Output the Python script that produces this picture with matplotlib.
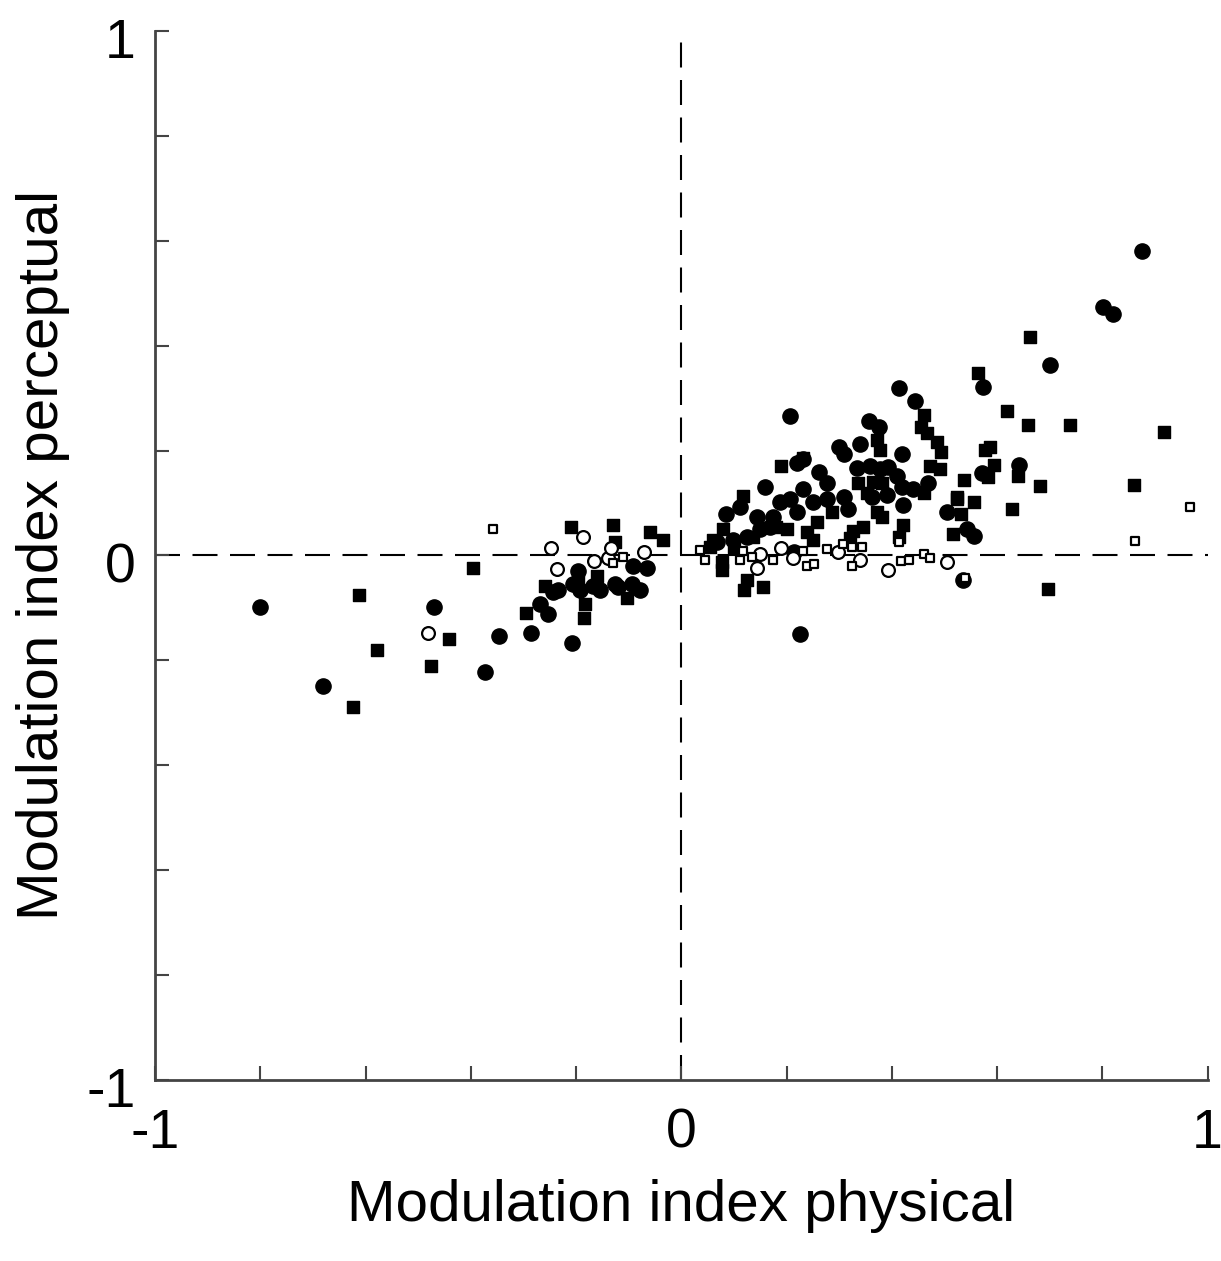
import numpy as np
import matplotlib.pyplot as plt
from matplotlib.transforms import ScaledTranslation

plt.rcParams['font.family'] = ['Liberation Sans', 'DejaVu Sans']

# filled circles (x, y)
fc_x = [-0.80, -0.68, -0.47, -0.347, -0.373, -0.286, -0.269, -0.253, -0.208, -0.244,
        -0.234, -0.206, -0.197, -0.193, -0.168, -0.155, -0.126, -0.12, -0.092, -0.094,
        -0.079, -0.066,
        0.206, 0.413, 0.444, 0.356, 0.375, 0.30, 0.31, 0.339, 0.358, 0.333, 0.377, 0.393,
        0.419, 0.409, 0.419, 0.44, 0.468, 0.362, 0.39, 0.422, 0.31, 0.317, 0.262, 0.276,
        0.22, 0.231, 0.159, 0.111, 0.084, 0.143, 0.187, 0.206, 0.231, 0.25, 0.22, 0.174,
        0.168, 0.149, 0.124, 0.098, 0.067, 0.504, 0.276, 0.215, 0.225,
        0.875, 0.802, 0.821, 0.70, 0.573, 0.641, 0.571, 0.542, 0.557, 0.535]
fc_y = [-0.099, -0.248, -0.099, -0.154, -0.223, -0.147, -0.093, -0.112, -0.166, -0.069,
        -0.065, -0.055, -0.030, -0.065, -0.059, -0.065, -0.055, -0.061, -0.021, -0.055,
        -0.065, -0.023,
        0.265, 0.32, 0.294, 0.256, 0.244, 0.206, 0.193, 0.212, 0.17, 0.166, 0.164, 0.168,
        0.193, 0.151, 0.13, 0.126, 0.139, 0.111, 0.116, 0.097, 0.111, 0.088, 0.16, 0.139,
        0.177, 0.183, 0.13, 0.092, 0.08, 0.074, 0.101, 0.107, 0.126, 0.101, 0.082, 0.074,
        0.055, 0.05, 0.036, 0.03, 0.025, 0.082, 0.107, 0.006, -0.149,
        0.58, 0.473, 0.461, 0.364, 0.322, 0.172, 0.158, 0.05, 0.038, -0.046]

# filled squares
fs_x = [-0.612, -0.578, -0.624, -0.476, -0.441, -0.396, -0.295, -0.259, -0.21, -0.13,
        -0.126, -0.183, -0.185, -0.104, -0.06, -0.035, -0.16, -0.197,
        0.19, 0.231, 0.117, 0.462, 0.456, 0.466, 0.485, 0.494, 0.472, 0.491, 0.462, 0.371,
        0.377, 0.336, 0.352, 0.364, 0.381, 0.371, 0.381, 0.345, 0.326, 0.32, 0.421, 0.413,
        0.286, 0.25, 0.257, 0.238, 0.079, 0.06, 0.054, 0.077, 0.077, 0.124, 0.12, 0.155,
        0.516, 0.523, 0.10, 0.136, 0.18, 0.20,
        0.662, 0.563, 0.618, 0.658, 0.738, 0.917, 0.577, 0.586, 0.595, 0.582, 0.639, 0.538,
        0.681, 0.861, 0.628, 0.523, 0.557, 0.531, 0.696]
fs_y = [-0.076, -0.181, -0.288, -0.21, -0.16, -0.023, -0.11, -0.059, 0.055, 0.059,
        0.025, -0.093, -0.12, -0.082, 0.044, 0.03, -0.04, -0.05,
        0.17, 0.185, 0.114, 0.267, 0.244, 0.234, 0.217, 0.198, 0.17, 0.164, 0.12, 0.221,
        0.202, 0.139, 0.12, 0.141, 0.139, 0.082, 0.074, 0.055, 0.046, 0.034, 0.059, 0.036,
        0.082, 0.03, 0.063, 0.044, 0.05, 0.03, 0.017, -0.013, -0.027, -0.046, -0.065, -0.061,
        0.04, 0.111, 0.017, 0.036, 0.055, 0.05,
        0.416, 0.347, 0.275, 0.248, 0.248, 0.236, 0.202, 0.206, 0.173, 0.149, 0.151, 0.143,
        0.133, 0.135, 0.088, 0.107, 0.101, 0.08, -0.063]

# open circles
oc_x = [-0.481, -0.248, -0.236, -0.187, -0.166, -0.14, -0.134, -0.071,
        0.19, 0.143, 0.297, 0.34, 0.393, 0.504, 0.212, 0.15]
oc_y = [-0.147, 0.015, -0.025, 0.036, -0.01, -0.004, 0.015, 0.006,
        0.015, -0.023, 0.006, -0.008, -0.027, -0.013, -0.004, 0.002]

# open squares
os_x = [-0.358, -0.111, -0.13,
        0.035, 0.045, 0.117, 0.134, 0.111, 0.174, 0.276, 0.231, 0.238, 0.253, 0.307,
        0.324, 0.343, 0.324, 0.413, 0.417, 0.432, 0.462, 0.472, 0.966, 0.863, 0.54]
os_y = [0.05, -0.002, -0.015,
        0.011, -0.008, 0.008, -0.002, -0.008, -0.008, 0.013, 0.008, -0.021, -0.017, 0.021,
        0.017, 0.017, -0.021, 0.025, -0.011, -0.008, 0.002, -0.004, 0.093, 0.027, -0.042]

fig = plt.figure(figsize=(12.21, 12.61), dpi=100)
ax = fig.add_axes([0.127, 0.1435, 0.862, 0.832])

ax.axvline(0, color='black', lw=1.5, dashes=(12, 6), zorder=1)
ax.axhline(0, color='black', lw=1.5, dashes=(12, 6), zorder=1)

ax.scatter(fc_x, fc_y, s=120, marker='o', c='black', edgecolors='black', zorder=3)
ax.scatter(fs_x, fs_y, s=70, marker='s', c='black', edgecolors='black', zorder=3)
ax.scatter(oc_x, oc_y, s=85, marker='o', facecolors='white', edgecolors='black',
           linewidths=1.6, zorder=4)
ax.scatter(os_x, os_y, s=40, marker='s', facecolors='white', edgecolors='black',
           linewidths=1.6, zorder=4)

ax.set_xlim(-1, 1)
ax.set_ylim(-1, 1)
ticks = np.round(np.arange(-1, 1.01, 0.2), 1)
labels = ['-1' if t == -1 else '0' if t == 0 else '1' if t == 1 else '' for t in ticks]
ax.set_xticks(ticks)
ax.set_xticklabels(labels)
ax.set_yticks(ticks)
ax.set_yticklabels(labels)
ax.tick_params(direction='in', length=10, width=1.5, color='#444444',
               labelsize=40, pad=14)
ax.tick_params(axis='x', pad=20)
for lab in ax.get_yticklabels():
    lab.set_transform(lab.get_transform() + ScaledTranslation(0, -0.07, fig.dpi_scale_trans))

for side in ['top', 'right']:
    ax.spines[side].set_visible(False)
for side in ['left', 'bottom']:
    ax.spines[side].set_linewidth(2)
    ax.spines[side].set_color('#444444')

ax.set_xlabel('Modulation index physical', fontsize=42, labelpad=14)
ax.set_ylabel('Modulation index perceptual', fontsize=42, labelpad=12)

fig.savefig('out.png', dpi=100)
